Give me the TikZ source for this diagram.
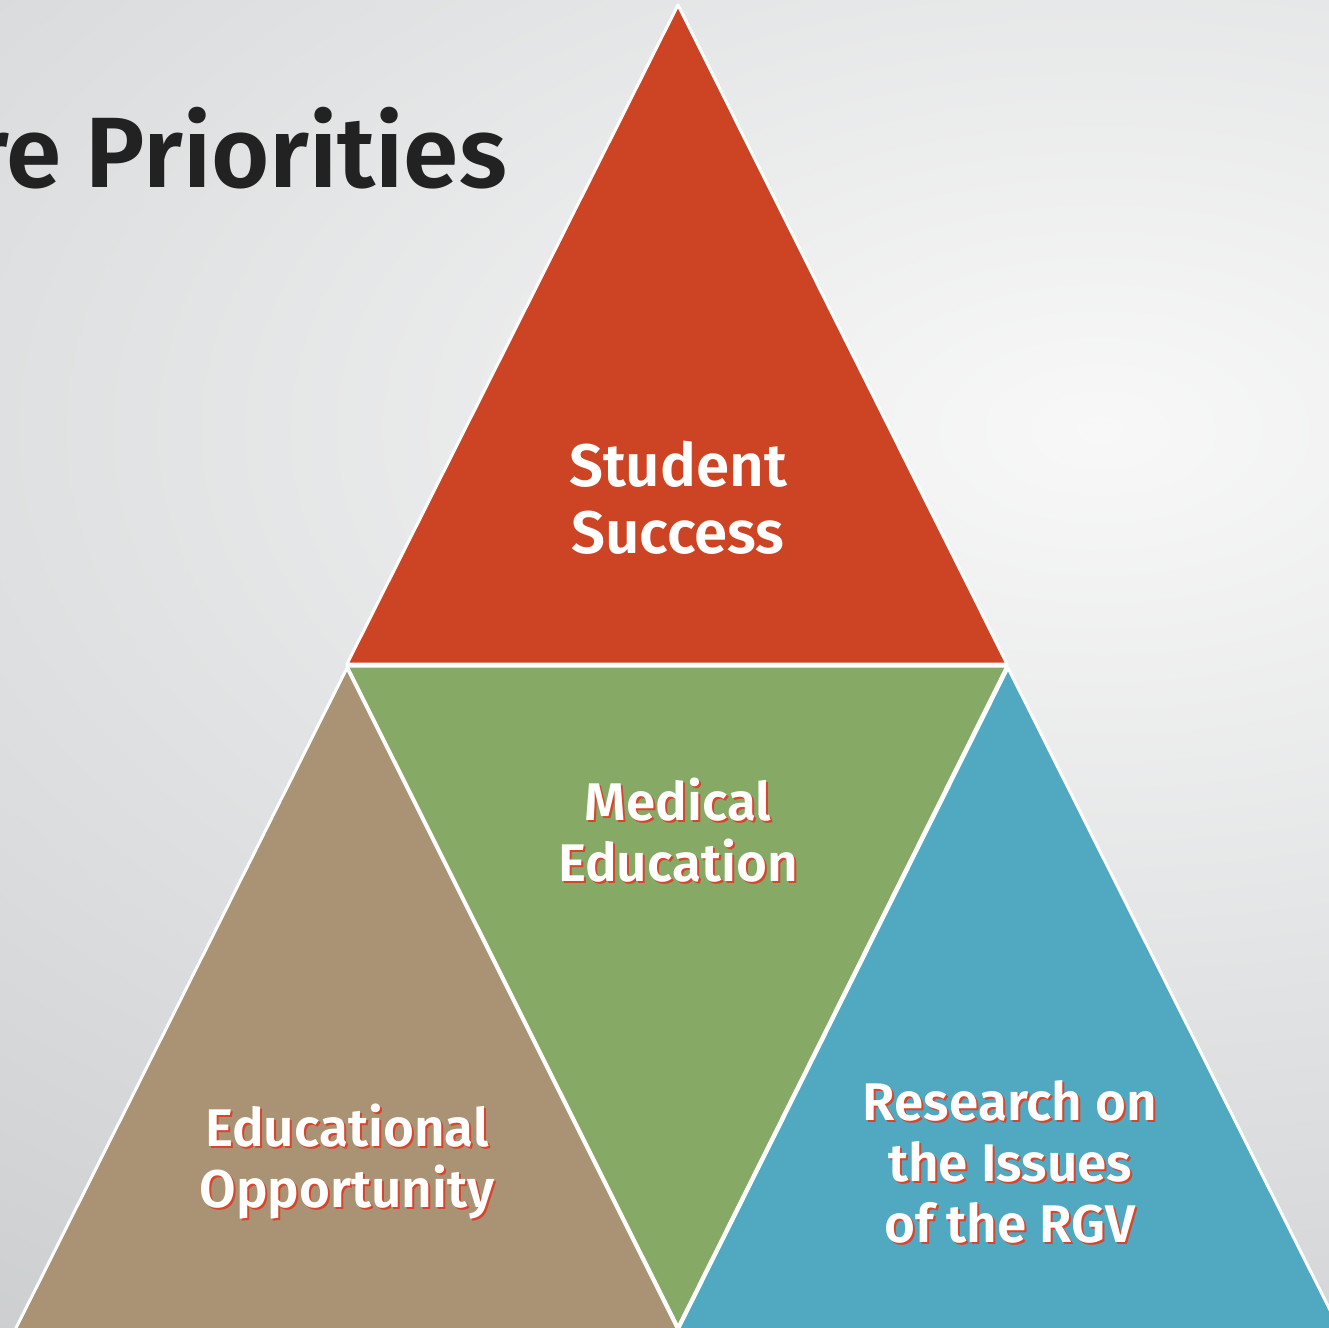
\documentclass[tikz,border=0pt]{standalone}
\usepackage{fontspec}
\setmainfont{Fira Sans}[BoldFont={Fira Sans SemiBold}]
\definecolor{bgLight}{HTML}{F8F8F8}
\definecolor{bgDark}{HTML}{BFC2C4}
\definecolor{titleGray}{HTML}{222222}
\definecolor{succRed}{HTML}{CC4424}
\definecolor{medGreen}{HTML}{86A966}
\definecolor{eduBrown}{HTML}{A99374}
\definecolor{resBlue}{HTML}{51A8C1}
\definecolor{shadowRed}{HTML}{D9452A}
\tikzset{
    piece/.style={draw=white,line width=3pt,line join=round},
    lbl/.style={align=center,text=white,font=\bfseries\fontsize{53}{61}\selectfont},
    lblshadow/.style={lbl,text=shadowRed}
}
\begin{document}
\begin{tikzpicture}[x=1pt,y=-1pt]
    % background
    \useasboundingbox (0,0) rectangle (1329,1327);
    \shade[inner color=bgLight,outer color=bgDark] (-1400,-1000) rectangle (3600,1860);
    % title
    \node[anchor=base east,inner sep=0pt,text=titleGray,font=\bfseries\fontsize{100}{100}\selectfont] (title) at (507,187) {re Priorities};
    % pyramid pieces
    \draw[piece,fill=succRed] (678,5) -- (1007,664) -- (347,664) -- cycle;
    \draw[piece,fill=medGreen] (347,666) -- (1007,666) -- (678,1327) -- cycle;
    \draw[piece,fill=eduBrown] (347,668) -- (678,1330) -- (15,1330) -- cycle;
    \draw[piece,fill=resBlue] (1008,668) -- (1340,1330) -- (678,1330) -- cycle;
    % labels
    \node[lbl,font=\bfseries\fontsize{60}{67}\selectfont] (success) at (678,498) {Student\\Success};
    \node[lblshadow] at (680,832) {Medical\\Education};
    \node[lbl] (medical) at (678,830) {Medical\\Education};
    \node[lblshadow] at (349,1164) {Educational\\Opportunity};
    \node[lbl] (educational) at (347,1162) {Educational\\Opportunity};
    \node[lblshadow] at (1012,1164) {Research on\\the Issues\\of the RGV};
    \node[lbl] (research) at (1010,1162) {Research on\\the Issues\\of the RGV};
\end{tikzpicture}
\end{document}
